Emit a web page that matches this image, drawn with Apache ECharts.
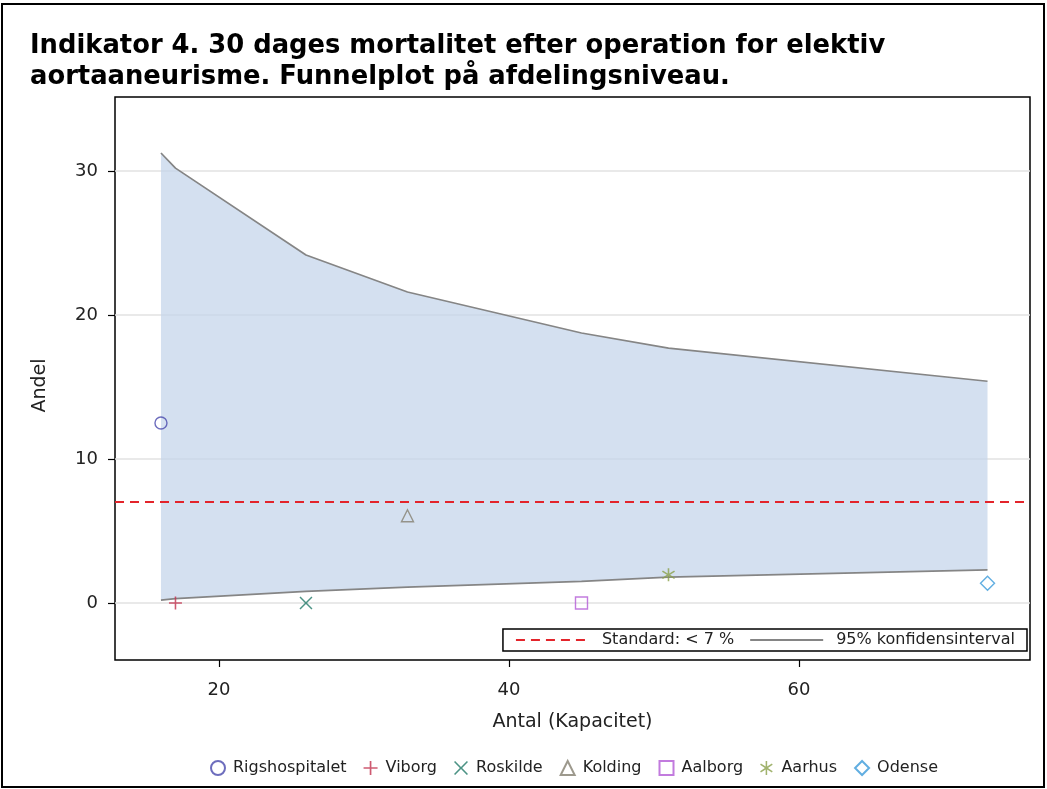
<!DOCTYPE html>
<html>
<head>
<meta charset="utf-8">
<title>Funnelplot</title>
<script src="https://cdn.jsdelivr.net/npm/echarts@6/dist/echarts.min.js"></script>
<style>
  html, body { margin: 0; padding: 0; background: #fff; }
  #chart { width: 1047px; height: 789px; }
</style>
</head>
<body>
<div id="chart"></div>
<script>
// afdelinger: antal operationer og andel døde (%)
const hospitals = ["Rigshospitalet", "Viborg", "Roskilde", "Kolding", "Aalborg", "Aarhus", "Odense"];
const antal = [16, 17, 26, 33, 45, 51, 73];
const andel = [12.5, 0, 0, 6.06, 0, 1.96, 1.37];

// 95% konfidensgrænser
const ciX = [16, 17, 26, 33, 45, 51, 73];
const ciLower = [0.2, 0.3, 0.8, 1.1, 1.5, 1.8, 2.3];
const ciUpper = [31.25, 30.2, 24.17, 21.6, 18.75, 17.7, 15.4];

const standard = 7;
const xTicks = [20, 40, 60];
const yTicks = [0, 10, 20, 30];

const colors = ["#4848ad", "#c2314e", "#1f7866", "#858070", "#b35ad6", "#8aa04a", "#3a9ad9"];
const symbols = [
  "circle",
  "path://M4.4,0H5.6V4.4H10V5.6H5.6V10H4.4V5.6H0V4.4H4.4Z",
  "path://M0.8,0L5,4.2L9.2,0L10,0.8L5.8,5L10,9.2L9.2,10L5,5.8L0.8,10L0,9.2L4.2,5L0,0.8Z",
  "triangle",
  "rect",
  "path://M4.45,0H5.55V4L8.9,1.7L9.5,2.6L6.1,5L9.5,7.4L8.9,8.3L5.55,6V10H4.45V6L1.1,8.3L0.5,7.4L3.9,5L0.5,2.6L1.1,1.7L4.45,4Z",
  "diamond"
];
const sizes = [12, 13, 13, 12, 12, 13, 14];
const hollow = [true, false, false, true, true, false, true];

const chart = echarts.init(document.getElementById("chart"));
const font = "DejaVu Sans";

const scatterSeries = hospitals.map((h, i) => ({
  name: h,
  type: "scatter",
  data: [[antal[i], andel[i]]],
  symbol: symbols[i],
  symbolSize: sizes[i],
  itemStyle: hollow[i]
    ? { color: "rgba(255,255,255,0)", borderColor: colors[i], borderWidth: 1.4 }
    : { color: colors[i] },
  z: 10
}));

// konfidensbåndet tegnes som polygon via akserne
function renderBand(params, api) {
  const pts = [];
  for (let i = 0; i < ciX.length; i++) pts.push(api.coord([ciX[i], ciUpper[i]]));
  for (let i = ciX.length - 1; i >= 0; i--) pts.push(api.coord([ciX[i], ciLower[i]]));
  return {
    type: "polygon",
    shape: { points: pts },
    style: { fill: "rgba(194,211,234,0.7)" }
  };
}

const hiddenDot = { opacity: 0, color: "rgba(0,0,0,0)" };

const option = {
  animation: false,
  textStyle: { fontFamily: font },
  title: {
    text: "Indikator 4. 30 dages mortalitet efter operation for elektiv\naortaaneurisme. Funnelplot på afdelingsniveau.",
    left: 25,
    top: 26,
    textStyle: { fontFamily: font, fontWeight: "bold", fontSize: 25.8, lineHeight: 31, color: "#000" }
  },
  graphic: [{
    type: "rect",
    shape: { x: 2, y: 4, width: 1042, height: 783 },
    style: { fill: "none", stroke: "#000", lineWidth: 2 },
    silent: true
  }],
  grid: {
    left: 115, right: 17, top: 97, bottom: 129,
    show: true, borderColor: "#000", borderWidth: 1.5, backgroundColor: "#fff"
  },
  legend: [{
    data: hospitals,
    left: 205,
    top: 755,
    itemWidth: 14,
    itemHeight: 14,
    itemGap: 17,
    textStyle: { fontFamily: font, fontSize: 16, color: "#222", padding: [0, 0, 0, 3] }
  }, {
    data: [
      { name: "Standard: < 7 %", itemStyle: hiddenDot },
      { name: "95% konfidensinterval", itemStyle: hiddenDot }
    ],
    right: 20,
    top: 629,
    itemWidth: 73,
    itemHeight: 14,
    itemGap: 15,
    padding: [3, 12, 3, 12],
    borderColor: "#000",
    borderWidth: 1.5,
    backgroundColor: "#fff",
    textStyle: { fontFamily: font, fontSize: 16, color: "#222", padding: [0, 0, 0, 8] }
  }],
  xAxis: {
    type: "value",
    min: 12.83,
    max: 75.93,
    name: "Antal (Kapacitet)",
    nameLocation: "middle",
    nameGap: 53,
    nameTextStyle: { fontFamily: font, fontSize: 19, color: "#222" },
    axisLine: { show: false, onZero: false },
    axisTick: { show: true, customValues: xTicks, length: 7, lineStyle: { color: "#000", width: 1.2 } },
    axisLabel: { customValues: xTicks, margin: 21, fontFamily: font, fontSize: 18, color: "#222" },
    splitLine: { show: false }
  },
  yAxis: {
    type: "value",
    min: -3.96,
    max: 35.14,
    name: "Andel",
    nameLocation: "middle",
    nameGap: 65,
    nameTextStyle: { fontFamily: font, fontSize: 19, color: "#222", padding: [0, 14, 0, 0] },
    axisLine: { show: false, onZero: false },
    axisTick: { show: true, customValues: yTicks, length: 7, lineStyle: { color: "#000", width: 1.2 } },
    axisLabel: { customValues: yTicks, margin: 17, fontFamily: font, fontSize: 18, color: "#222" },
    splitLine: { show: true, lineStyle: { color: "#e2e2e2", width: 1.5 } }
  },
  series: [
    {
      name: "Standard: < 7 %",
      type: "line",
      data: [],
      symbol: "none",
      lineStyle: { color: "#e3242b", type: [9, 6], width: 2 },
      itemStyle: { color: "#e3242b" },
      markLine: {
        silent: true,
        symbol: "none",
        label: { show: false },
        lineStyle: { color: "#e3242b", type: [9, 6], width: 2 },
        data: [{ yAxis: standard }]
      },
      z: 2
    },
    {
      name: "band",
      type: "custom",
      renderItem: renderBand,
      data: [[ciX[0], ciUpper[0]]],
      silent: true,
      z: 3
    },
    {
      name: "95% konfidensinterval",
      type: "line",
      data: ciX.map((x, i) => [x, ciLower[i]]),
      symbol: "none",
      lineStyle: { color: "#858585", width: 1.7 },
      itemStyle: { color: "#858585" },
      z: 4
    },
    {
      name: "ci-upper",
      type: "line",
      data: ciX.map((x, i) => [x, ciUpper[i]]),
      symbol: "none",
      lineStyle: { color: "#858585", width: 1.7 },
      itemStyle: { color: "#858585" },
      z: 4
    }
  ].concat(scatterSeries)
};

chart.setOption(option);
</script>
</body>
</html>
